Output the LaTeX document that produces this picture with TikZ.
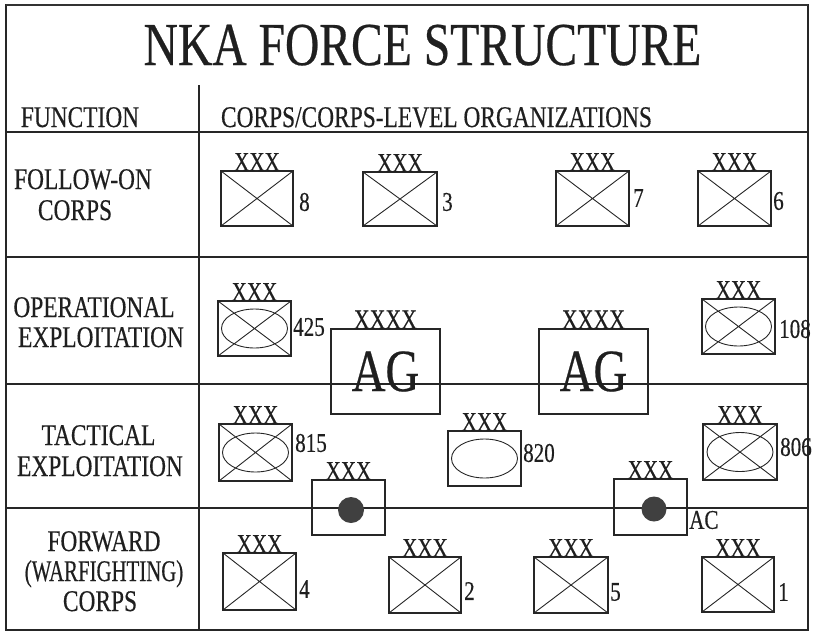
\documentclass[tikz,border=0pt]{standalone}
\usepackage{fontspec}
\setmainfont{Liberation Serif}
\newfontfamily\cond[FakeStretch=0.78,FakeBold=0.4]{Liberation Serif}
\begin{document}
\begin{tikzpicture}[x=1pt,y=-1pt,
  unitbox/.style={draw=black!85, line width=1.1pt, minimum width=73pt, minimum height=55pt, inner sep=0pt, outer sep=0pt},
  crossed/.style={path picture={\draw[line width=0.9pt, black!85]
      (path picture bounding box.north west) -- (path picture bounding box.south east)
      (path picture bounding box.south west) -- (path picture bounding box.north east);}},
  oval/.style={path picture={\draw[line width=0.9pt, black!85]
      (path picture bounding box.center) ellipse [x radius=33pt, y radius=19.5pt];}},
  mech/.style={path picture={\draw[line width=0.9pt, black!85]
      (path picture bounding box.north west) -- (path picture bounding box.south east)
      (path picture bounding box.south west) -- (path picture bounding box.north east)
      (path picture bounding box.center) ellipse [x radius=33pt, y radius=19.5pt];}},
  ech/.style={font=\cond\fontsize{27}{27}\selectfont, text=black!88, inner sep=0pt, anchor=south},
  num/.style={font=\cond\fontsize{27}{27}\selectfont, text=black!88, inner sep=0pt, anchor=west},
  lab/.style={font=\cond\fontsize{30}{30}\selectfont, text=black!88, inner sep=0pt, anchor=base},
  dot/.style={circle, fill=black!75, inner sep=0pt, minimum size=26pt}
]
\useasboundingbox (0,0) rectangle (815,633);
% frame and grid
\draw[line width=1.6pt, black!85] (6,5) rectangle (808,630);
\draw[line width=2.6pt, black!80] (6,5) -- (808,5);
\draw[line width=1.2pt, black!85] (6,132) -- (808,132) (6,257) -- (808,257)
  (6,384) -- (808,384) (6,508) -- (808,508) (199,85) -- (199,630);
% title and headers
\node[font=\cond\fontsize{61}{61}\selectfont, text=black!88, inner sep=0pt, anchor=base] (title) at (422.5,65) {NKA FORCE STRUCTURE};
\node[lab] (hfun) at (80,127) {FUNCTION};
\node[lab] (hcorps) at (436.5,127) {CORPS/CORPS-LEVEL ORGANIZATIONS};
% row labels
\node[lab] (r1a) at (83,189) {FOLLOW-ON};
\node[lab] (r1b) at (75,220) {CORPS};
\node[lab] (r2a) at (94,317) {OPERATIONAL};
\node[lab] (r2b) at (101,347) {EXPLOITATION};
\node[lab] (r3a) at (98.5,445) {TACTICAL};
\node[lab] (r3b) at (100,476) {EXPLOITATION};
\node[lab] (r4a) at (104,551) {FORWARD};
\node[lab] (r4b) at (104,581) {\scalebox{0.89}[1]{(WARFIGHTING)}};
\node[lab] (r4c) at (100,611) {CORPS};
% follow-on corps
\node[unitbox, crossed, minimum width=72pt] (u8) at (257,198.5) {};
\node[unitbox, crossed, minimum width=74pt, minimum height=54pt] (u3) at (400,199) {};
\node[unitbox, crossed] (u7) at (592.5,198.5) {};
\node[unitbox, crossed] (u6) at (734.5,198.5) {};
\node[ech] (x8) at (u8.north) {XXX};
\node[ech] (x3) at (u3.north) {XXX};
\node[ech] (x7) at (u7.north) {XXX};
\node[ech] (x6) at (u6.north) {XXX};
\node[num] (n8) at (299,202) {8};
\node[num] (n3) at (442,202) {3};
\node[num] (n7) at (633,198) {7};
\node[num] (n6) at (773,201) {6};
% operational exploitation
\node[unitbox, mech] (u425) at (254.5,328.5) {};
\node[unitbox, mech] (u108) at (738.5,326.5) {};
\node[ech] (x425) at (u425.north) {XXX};
\node[ech] (x108) at (u108.north) {XXX};
\node[num] (n425) at (293,327) {425};
\node[num] (n108) at (779,329) {108};
\node[unitbox, minimum width=109pt, minimum height=85pt, font=\cond\fontsize{60}{60}\selectfont, text=black!88] (ag1) at (385.5,371.5) {AG};
\node[unitbox, minimum width=109pt, minimum height=85pt, font=\cond\fontsize{60}{60}\selectfont, text=black!88] (ag2) at (593.5,371.5) {AG};
\node[ech, font=\cond\fontsize{28}{28}\selectfont] (xag1) at (ag1.north) {XXXX};
\node[ech, font=\cond\fontsize{28}{28}\selectfont] (xag2) at (ag2.north) {XXXX};
% tactical exploitation
\node[unitbox, mech, minimum height=57pt] (u815) at (255.5,452.5) {};
\node[unitbox, oval] (u820) at (484.5,458.5) {};
\node[unitbox, mech, minimum width=74pt, minimum height=56pt] (u806) at (740,452) {};
\node[ech] (x815) at (u815.north) {XXX};
\node[ech] (x820) at (u820.north) {XXX};
\node[ech] (x806) at (u806.north) {XXX};
\node[num] (n815) at (295,443) {815};
\node[num] (n820) at (523,453) {820};
\node[num] (n806) at (780,447) {806};
\node[unitbox] (d1) at (348.5,507.5) {};
\node[unitbox, minimum height=56pt] (d2) at (650.5,507) {};
\node[dot] (dot1) at (351,510) {};
\node[dot, minimum size=25pt] (dot2) at (654,509) {};
\node[ech] (xd1) at (d1.north) {XXX};
\node[ech] (xd2) at (d2.north) {XXX};
\node[num] (nac) at (689,520) {AC};
% forward corps
\node[unitbox, crossed, minimum height=57pt] (u4) at (259.5,581.5) {};
\node[unitbox, crossed, minimum width=72pt, minimum height=56pt] (u2) at (425,585) {};
\node[unitbox, crossed, minimum width=74pt, minimum height=56pt] (u5) at (571,585) {};
\node[unitbox, crossed, minimum width=72pt] (u1) at (738,584.5) {};
\node[ech] (x4) at (u4.north) {XXX};
\node[ech] (x2) at (u2.north) {XXX};
\node[ech] (x5) at (u5.north) {XXX};
\node[ech] (x1) at (u1.north) {XXX};
\node[num] (n4) at (299,589) {4};
\node[num] (n2) at (464,591) {2};
\node[num] (n5) at (610,592) {5};
\node[num] (n1) at (778,592) {1};
\end{tikzpicture}
\end{document}
